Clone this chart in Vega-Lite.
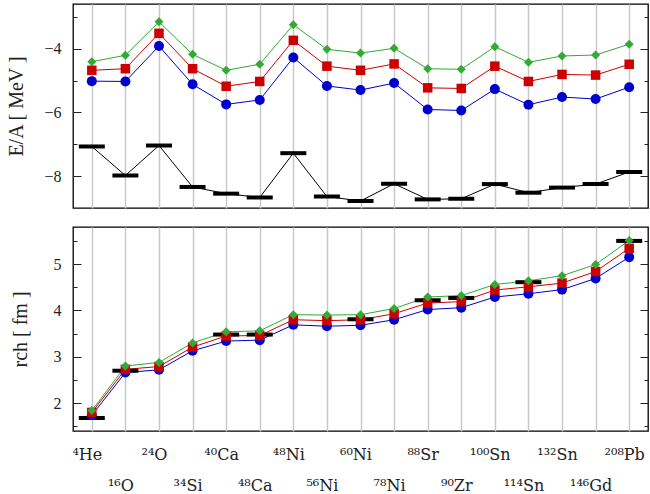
{
  "$schema": "https://vega.github.io/schema/vega-lite/v6.json",
  "padding": {"left": 6, "top": 3, "right": 3, "bottom": 0},
  "autosize": {"type": "pad"},
  "config": {
    "font": "Liberation Serif",
    "view": {"stroke": "#000", "strokeWidth": 1.3},
    "axis": {
      "labelFont": "Liberation Serif",
      "labelFontSize": 16,
      "labelColor": "#222",
      "titleFont": "Liberation Serif",
      "titleFontSize": 20,
      "titleFontWeight": "normal",
      "titleColor": "#222",
      "domain": false,
      "tickColor": "#222",
      "tickWidth": 1,
      "gridColor": "#c8c8c8",
      "gridWidth": 1.5
    }
  },
  "datasets": {
    "nuclei": [
      {"i": 0, "nucleus": "⁴He", "series": "model 1", "E": -5.02, "r": 1.74},
      {"i": 1, "nucleus": "¹⁶O", "series": "model 1", "E": -5.03, "r": 2.66},
      {"i": 2, "nucleus": "²⁴O", "series": "model 1", "E": -3.92, "r": 2.72},
      {"i": 3, "nucleus": "³⁴Si", "series": "model 1", "E": -5.12, "r": 3.13},
      {"i": 4, "nucleus": "⁴⁰Ca", "series": "model 1", "E": -5.75, "r": 3.34},
      {"i": 5, "nucleus": "⁴⁸Ca", "series": "model 1", "E": -5.61, "r": 3.36},
      {"i": 6, "nucleus": "⁴⁸Ni", "series": "model 1", "E": -4.28, "r": 3.69},
      {"i": 7, "nucleus": "⁵⁶Ni", "series": "model 1", "E": -5.17, "r": 3.66},
      {"i": 8, "nucleus": "⁶⁰Ni", "series": "model 1", "E": -5.30, "r": 3.68},
      {"i": 9, "nucleus": "⁷⁸Ni", "series": "model 1", "E": -5.08, "r": 3.80},
      {"i": 10, "nucleus": "⁸⁸Sr", "series": "model 1", "E": -5.91, "r": 4.02},
      {"i": 11, "nucleus": "⁹⁰Zr", "series": "model 1", "E": -5.94, "r": 4.06},
      {"i": 12, "nucleus": "¹⁰⁰Sn", "series": "model 1", "E": -5.27, "r": 4.29},
      {"i": 13, "nucleus": "¹¹⁴Sn", "series": "model 1", "E": -5.76, "r": 4.36},
      {"i": 14, "nucleus": "¹³²Sn", "series": "model 1", "E": -5.52, "r": 4.45},
      {"i": 15, "nucleus": "¹⁴⁶Gd", "series": "model 1", "E": -5.58, "r": 4.69},
      {"i": 16, "nucleus": "²⁰⁸Pb", "series": "model 1", "E": -5.21, "r": 5.15},
      {"i": 0, "nucleus": "⁴He", "series": "model 2", "E": -4.68, "r": 1.80},
      {"i": 1, "nucleus": "¹⁶O", "series": "model 2", "E": -4.63, "r": 2.73},
      {"i": 2, "nucleus": "²⁴O", "series": "model 2", "E": -3.52, "r": 2.79},
      {"i": 3, "nucleus": "³⁴Si", "series": "model 2", "E": -4.63, "r": 3.21},
      {"i": 4, "nucleus": "⁴⁰Ca", "series": "model 2", "E": -5.18, "r": 3.45},
      {"i": 5, "nucleus": "⁴⁸Ca", "series": "model 2", "E": -5.03, "r": 3.46},
      {"i": 6, "nucleus": "⁴⁸Ni", "series": "model 2", "E": -3.74, "r": 3.80},
      {"i": 7, "nucleus": "⁵⁶Ni", "series": "model 2", "E": -4.55, "r": 3.78},
      {"i": 8, "nucleus": "⁶⁰Ni", "series": "model 2", "E": -4.68, "r": 3.80},
      {"i": 9, "nucleus": "⁷⁸Ni", "series": "model 2", "E": -4.48, "r": 3.93},
      {"i": 10, "nucleus": "⁸⁸Sr", "series": "model 2", "E": -5.23, "r": 4.16},
      {"i": 11, "nucleus": "⁹⁰Zr", "series": "model 2", "E": -5.25, "r": 4.19},
      {"i": 12, "nucleus": "¹⁰⁰Sn", "series": "model 2", "E": -4.55, "r": 4.44},
      {"i": 13, "nucleus": "¹¹⁴Sn", "series": "model 2", "E": -5.03, "r": 4.51},
      {"i": 14, "nucleus": "¹³²Sn", "series": "model 2", "E": -4.81, "r": 4.59},
      {"i": 15, "nucleus": "¹⁴⁶Gd", "series": "model 2", "E": -4.83, "r": 4.84},
      {"i": 16, "nucleus": "²⁰⁸Pb", "series": "model 2", "E": -4.49, "r": 5.34},
      {"i": 0, "nucleus": "⁴He", "series": "model 3", "E": -4.41, "r": 1.84},
      {"i": 1, "nucleus": "¹⁶O", "series": "model 3", "E": -4.21, "r": 2.80},
      {"i": 2, "nucleus": "²⁴O", "series": "model 3", "E": -3.16, "r": 2.88},
      {"i": 3, "nucleus": "³⁴Si", "series": "model 3", "E": -4.18, "r": 3.30},
      {"i": 4, "nucleus": "⁴⁰Ca", "series": "model 3", "E": -4.68, "r": 3.54},
      {"i": 5, "nucleus": "⁴⁸Ca", "series": "model 3", "E": -4.49, "r": 3.56},
      {"i": 6, "nucleus": "⁴⁸Ni", "series": "model 3", "E": -3.25, "r": 3.91},
      {"i": 7, "nucleus": "⁵⁶Ni", "series": "model 3", "E": -4.02, "r": 3.90},
      {"i": 8, "nucleus": "⁶⁰Ni", "series": "model 3", "E": -4.14, "r": 3.91},
      {"i": 9, "nucleus": "⁷⁸Ni", "series": "model 3", "E": -3.99, "r": 4.04},
      {"i": 10, "nucleus": "⁸⁸Sr", "series": "model 3", "E": -4.63, "r": 4.29},
      {"i": 11, "nucleus": "⁹⁰Zr", "series": "model 3", "E": -4.65, "r": 4.32},
      {"i": 12, "nucleus": "¹⁰⁰Sn", "series": "model 3", "E": -3.94, "r": 4.56},
      {"i": 13, "nucleus": "¹¹⁴Sn", "series": "model 3", "E": -4.43, "r": 4.64},
      {"i": 14, "nucleus": "¹³²Sn", "series": "model 3", "E": -4.23, "r": 4.75},
      {"i": 15, "nucleus": "¹⁴⁶Gd", "series": "model 3", "E": -4.20, "r": 4.99},
      {"i": 16, "nucleus": "²⁰⁸Pb", "series": "model 3", "E": -3.86, "r": 5.51},
      {"i": 0, "nucleus": "⁴He", "series": "experiment", "E": -7.07, "r": 1.68},
      {"i": 1, "nucleus": "¹⁶O", "series": "experiment", "E": -7.98, "r": 2.70},
      {"i": 2, "nucleus": "²⁴O", "series": "experiment", "E": -7.04, "r": null},
      {"i": 3, "nucleus": "³⁴Si", "series": "experiment", "E": -8.34, "r": null},
      {"i": 4, "nucleus": "⁴⁰Ca", "series": "experiment", "E": -8.55, "r": 3.48},
      {"i": 5, "nucleus": "⁴⁸Ca", "series": "experiment", "E": -8.67, "r": 3.48},
      {"i": 6, "nucleus": "⁴⁸Ni", "series": "experiment", "E": -7.28, "r": null},
      {"i": 7, "nucleus": "⁵⁶Ni", "series": "experiment", "E": -8.64, "r": null},
      {"i": 8, "nucleus": "⁶⁰Ni", "series": "experiment", "E": -8.78, "r": 3.81},
      {"i": 9, "nucleus": "⁷⁸Ni", "series": "experiment", "E": -8.24, "r": null},
      {"i": 10, "nucleus": "⁸⁸Sr", "series": "experiment", "E": -8.73, "r": 4.22},
      {"i": 11, "nucleus": "⁹⁰Zr", "series": "experiment", "E": -8.71, "r": 4.27},
      {"i": 12, "nucleus": "¹⁰⁰Sn", "series": "experiment", "E": -8.25, "r": null},
      {"i": 13, "nucleus": "¹¹⁴Sn", "series": "experiment", "E": -8.52, "r": 4.61},
      {"i": 14, "nucleus": "¹³²Sn", "series": "experiment", "E": -8.36, "r": null},
      {"i": 15, "nucleus": "¹⁴⁶Gd", "series": "experiment", "E": -8.25, "r": null},
      {"i": 16, "nucleus": "²⁰⁸Pb", "series": "experiment", "E": -7.87, "r": 5.50}
    ]
  },
  "spacing": 17,
  "vconcat": [
    {
      "width": 575,
      "height": 204,
      "data": {"name": "nuclei"},
      "encoding": {
        "x": {
          "field": "nucleus",
          "type": "ordinal",
          "sort": {"field": "i", "op": "min"},
          "scale": {"type": "point", "padding": 0.56},
          "axis": {"title": null, "labels": false, "ticks": false, "domain": false, "grid": true}
        }
      },
      "layer": [
        {
          "transform": [{"filter": "datum.series != 'experiment'"}],
          "mark": {"type": "line", "strokeWidth": 1},
          "encoding": {
            "y": {
              "field": "E", "type": "quantitative",
              "scale": {"domain": [-9, -2.6], "nice": false, "zero": false},
              "axis": {
                "title": "E/A [ MeV ]",
                "orient": "left",
                "grid": false,
                "values": [-8, -7, -6, -5, -4, -3],
                "labelExpr": "datum.value % 2 == 0 ? '−' + abs(datum.value) : ''",
                "tickSize": {"condition": {"test": "datum.value % 2 == 0", "value": -8}, "value": -4},
                "labelPadding": 20,
                "titlePadding": 17
              }
            },
            "color": {
              "field": "series", "type": "nominal",
              "scale": {"domain": ["model 1", "model 2", "model 3"], "range": ["#0000cc", "#cc0000", "#33aa33"]},
              "legend": null
            }
          }
        },
        {
          "transform": [{"filter": "datum.series != 'experiment'"}],
          "mark": {"type": "point", "filled": true, "opacity": 1},
          "encoding": {
            "y": {
              "field": "E", "type": "quantitative",
              "axis": {
                "title": null,
                "orient": "right",
                "grid": false,
                "labels": false,
                "values": [-8, -7, -6, -5, -4, -3],
                "tickSize": {"condition": {"test": "datum.value % 2 == 0", "value": -8}, "value": -4}
              }
            },
            "color": {"field": "series", "type": "nominal", "legend": null},
            "shape": {
              "field": "series", "type": "nominal",
              "scale": {"domain": ["model 1", "model 2", "model 3"], "range": ["circle", "square", "diamond"]},
              "legend": null
            },
            "size": {
              "field": "series", "type": "nominal",
              "scale": {"domain": ["model 1", "model 2", "model 3"], "range": [100, 81, 170]},
              "legend": null
            }
          }
        },
        {
          "transform": [{"filter": "datum.series == 'experiment'"}],
          "mark": {"type": "line", "color": "#000", "strokeWidth": 1},
          "encoding": {"y": {"field": "E", "type": "quantitative", "axis": null}}
        },
        {
          "transform": [{"filter": "datum.series == 'experiment'"}],
          "mark": {"type": "tick", "orient": "horizontal", "color": "#000", "thickness": 4, "size": 26, "opacity": 1},
          "encoding": {"y": {"field": "E", "type": "quantitative", "axis": null}}
        }
      ],
      "resolve": {"axis": {"y": "independent"}}
    },
    {
      "width": 575,
      "height": 204,
      "data": {"name": "nuclei"},
      "encoding": {
        "x": {
          "field": "nucleus",
          "type": "ordinal",
          "sort": {"field": "i", "op": "min"},
          "scale": {"type": "point", "padding": 0.56},
          "axis": {
            "title": null, "ticks": false, "domain": false, "grid": true,
            "labelAngle": 0, "labelFont": "DejaVu Serif", "labelFontSize": 16, "labelPadding": 15, "labelOffset": -5,
            "labelOverlap": false, "labelFlush": false, "labelLineHeight": 31,
            "labelAlign": "center", "labelBaseline": "top",
            "labelExpr": "round(datum.index * 16) % 2 == 1 ? ['', datum.label] : datum.label"
          }
        }
      },
      "layer": [
        {
          "transform": [{"filter": "datum.series != 'experiment'"}],
          "mark": {"type": "line", "strokeWidth": 1},
          "encoding": {
            "y": {
              "field": "r", "type": "quantitative",
              "scale": {"domain": [1.4, 5.8], "nice": false, "zero": false},
              "axis": {
                "title": "rch [ fm ]",
                "orient": "left",
                "grid": false,
                "values": [1.5, 2, 2.5, 3, 3.5, 4, 4.5, 5, 5.5],
                "labelExpr": "datum.value % 1 == 0 ? format(datum.value, 'd') : ''",
                "tickSize": {"condition": {"test": "datum.value % 1 == 0", "value": -8}, "value": -4},
                "labelPadding": 20,
                "titlePadding": 23
              }
            },
            "color": {
              "field": "series", "type": "nominal",
              "scale": {"domain": ["model 1", "model 2", "model 3"], "range": ["#0000cc", "#cc0000", "#33aa33"]},
              "legend": null
            }
          }
        },
        {
          "transform": [{"filter": "datum.series == 'experiment' && isValid(datum.r)"}],
          "mark": {"type": "tick", "orient": "horizontal", "color": "#000", "thickness": 4, "size": 26, "opacity": 1},
          "encoding": {"y": {"field": "r", "type": "quantitative", "axis": null}}
        },
        {
          "transform": [{"filter": "datum.series != 'experiment'"}],
          "mark": {"type": "point", "filled": true, "opacity": 1},
          "encoding": {
            "y": {
              "field": "r", "type": "quantitative",
              "axis": {
                "title": null,
                "orient": "right",
                "grid": false,
                "labels": false,
                "values": [1.5, 2, 2.5, 3, 3.5, 4, 4.5, 5, 5.5],
                "tickSize": {"condition": {"test": "datum.value % 1 == 0", "value": -8}, "value": -4}
              }
            },
            "color": {"field": "series", "type": "nominal", "legend": null},
            "shape": {
              "field": "series", "type": "nominal",
              "scale": {"domain": ["model 1", "model 2", "model 3"], "range": ["circle", "square", "diamond"]},
              "legend": null
            },
            "size": {
              "field": "series", "type": "nominal",
              "scale": {"domain": ["model 1", "model 2", "model 3"], "range": [100, 81, 170]},
              "legend": null
            }
          }
        }
      ],
      "resolve": {"axis": {"y": "independent"}}
    }
  ]
}
